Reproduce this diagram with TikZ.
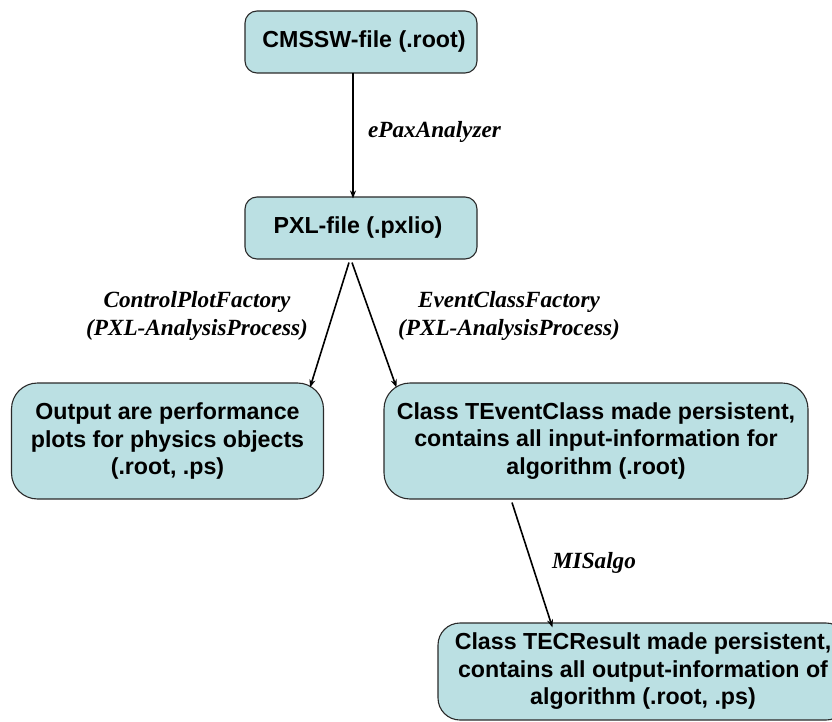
\documentclass[tikz,border=0pt]{standalone}
\usepackage{fontspec}
\setmainfont{Liberation Sans}
\newfontfamily\labelfont{Liberation Serif}
\usetikzlibrary{arrows.meta}
\definecolor{boxfill}{HTML}{BBE0E3}
\definecolor{boxline}{HTML}{2A2A2A}
\tikzset{
  box/.style={draw=boxline, line width=1.1pt, fill=boxfill, align=center,
    font=\fontsize{23.2}{27.5}\selectfont\bfseries, inner sep=0pt},
  lbl/.style={align=center, font=\labelfont\fontsize{23.2}{28}\selectfont\bfseries\itshape},
  arr/.style={line width=1.6pt, -{Stealth[length=8pt,width=6pt]}}
}
\begin{document}
\begin{tikzpicture}[x=1pt,y=-1pt]
\useasboundingbox (0,0) rectangle (832,722);
\clip (0,0) rectangle (832,722);
\node[box, rounded corners=12pt, minimum width=232pt, minimum height=62pt] (b1) at (361,42) {\hspace*{6pt}CMSSW-file (.root)};
\node[box, rounded corners=12pt, minimum width=232pt, minimum height=62pt] (b2) at (361,228) {PXL-file (.pxlio)\hspace*{6pt}};
\node[box, rounded corners=26pt, minimum width=312pt, minimum height=116pt] (b3) at (167.5,441) {Output are performance\\plots for physics objects\\(.root, .ps)};
\node[box, rounded corners=26pt, minimum width=424pt, minimum height=116pt] (b4) at (596,441) {Class TEventClass made persistent,\\contains all input-information for\\algorithm (.root)};
\node[box, rounded corners=22pt, minimum width=410pt, minimum height=97pt] (b5) at (643,671.5) {Class TECResult made persistent,\\contains all output-information of\\algorithm (.root, .ps)};

\draw[arr] ([xshift=-8pt,yshift=1pt]b1.south) -- ([xshift=-8pt,yshift=-2pt]b2.north);
\draw[arr] ([xshift=-12pt,yshift=-3pt]b2.south) -- ([xshift=-14pt,yshift=-5pt]b3.north east);
\draw[arr] ([xshift=-9pt,yshift=-3pt]b2.south) -- ([xshift=13pt,yshift=-5pt]b4.north west);
\draw[arr] ([xshift=-84pt,yshift=-3pt]b4.south) -- ([xshift=115pt,yshift=-5pt]b5.north west);

\node[lbl] (l1) at (434.5,132) {ePaxAnalyzer};
\node[lbl] (l2) at (197,316) {ControlPlotFactory\\(PXL-AnalysisProcess)};
\node[lbl] (l3) at (509,316) {EventClassFactory\\(PXL-AnalysisProcess)};
\node[lbl] (l4) at (594,563) {MISalgo};
\end{tikzpicture}
\end{document}
